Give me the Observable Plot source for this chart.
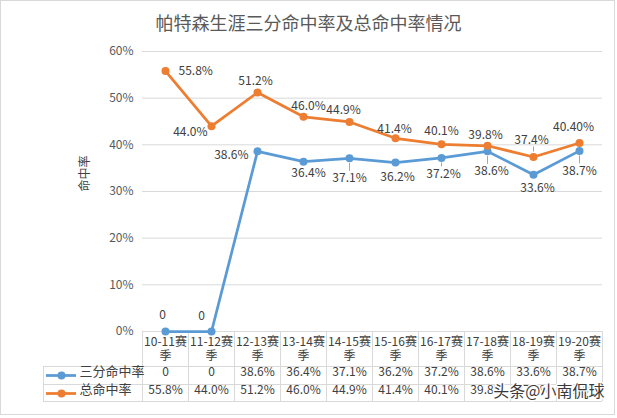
<!DOCTYPE html>
<html><head><meta charset="utf-8">
<script src="https://cdn.jsdelivr.net/npm/d3@7"></script>
<script src="https://cdn.jsdelivr.net/npm/@observablehq/plot@0.6"></script>
<style>
body{margin:0;background:#fff;}
#wrap{position:relative;width:617px;height:418px;font-family:"Microsoft YaHei","Noto Sans CJK SC",sans-serif;}
#frame{position:absolute;left:0;top:0;width:615px;height:415px;border:1px solid #d9d9d9;box-sizing:border-box;pointer-events:none;}
#title{position:absolute;left:0;width:617px;top:9px;text-align:center;font-size:18px;color:#595959;line-height:26px;}
#chart{position:absolute;left:0;top:0;}
</style></head>
<body><div id="wrap"><div id="chart"></div><div id="title"></div><div id="frame"></div></div>
<script>
// ---- data ----
const chartTitle = "帕特森生涯三分命中率及总命中率情况";
const seasons = ["10-11赛季","11-12赛季","12-13赛季","13-14赛季","14-15赛季","15-16赛季","16-17赛季","17-18赛季","18-19赛季","19-20赛季"];
const threePct = [0, 0, 38.6, 36.4, 37.1, 36.2, 37.2, 38.6, 33.6, 38.7];
const totalPct = [55.8, 44.0, 51.2, 46.0, 44.9, 41.4, 40.1, 39.8, 37.4, 40.4];
const threeLabels = ["0","0","38.6%","36.4%","37.1%","36.2%","37.2%","38.6%","33.6%","38.7%"];
const totalLabels = ["55.8%","44.0%","51.2%","46.0%","44.9%","41.4%","40.1%","39.8%","37.4%","40.40%"];
const seriesNames = ["三分命中率","总命中率"];
const yTicks = [0, 10, 20, 30, 40, 50, 60];
const yTitle = "命中率";
const watermark = "头条@小南侃球";

// ---- layout / style ----
const W = 617, H = 418, ML = 142, MR = 15, MT = 51, MB = 87;
const BW = (W - ML - MR) / seasons.length;
const BLUE = "#5B9BD5", ORANGE = "#ED7D31", GRID = "#d9d9d9", TXT = "#404040";
const LEG = 99; // legend column width
// label placement: [dx, dy, anchor, leader]
const threePlace = [[-3,-16,"middle",0],[-10,-15,"middle",0],[-9,4,"end",0],[5,12,"middle",0],[0,20,"middle",1],[2,15,"middle",0],[2,16,"middle",1],[4,20,"middle",1],[4,13,"middle",0],[0,20,"middle",1]];
const totalPlace = [[13,0,"start",0],[-4,6,"end",0],[-2,-11,"middle",0],[5,-11,"middle",0],[-6,-12,"middle",0],[-1,-9,"middle",0],[0,-13,"middle",0],[-2,-11,"middle",0],[-2,-17,"middle",-1],[-6,-16,"middle",0]];

document.getElementById("title").textContent = chartTitle;
const idx = d3.range(seasons.length);

function labelMarks(vals, labels, place, color) {
  const marks = [];
  idx.forEach(i => {
    const [dx, dy, anchor, leader] = place[i];
    marks.push(Plot.text([i], {x: j => seasons[j], y: j => vals[j], text: j => labels[j], dx, dy, textAnchor: anchor, fill: TXT, fontSize: 12}));
    if (leader === 1) marks.push(Plot.ruleX([i], {x: j => seasons[j], y1: j => vals[j], y2: j => vals[j], insetTop: 5, insetBottom: -(dy - 7), stroke: "#a6a6a6", strokeWidth: 1}));
    if (leader === -1) marks.push(Plot.ruleX([i], {x: j => seasons[j], y1: j => vals[j], y2: j => vals[j], insetTop: dy + 7, insetBottom: 5, stroke: "#a6a6a6", strokeWidth: 1}));
  });
  return marks;
}

const chart = Plot.plot({
  width: W, height: H,
  marginLeft: ML, marginRight: MR, marginTop: MT, marginBottom: MB,
  style: {fontFamily: '"Microsoft YaHei","Noto Sans CJK SC",sans-serif', fontSize: "12px", color: TXT, background: "transparent"},
  x: {type: "band", domain: seasons, padding: 0, axis: null},
  y: {domain: [0, 60], axis: null},
  marks: [
    Plot.ruleY(yTicks, {stroke: GRID, strokeWidth: 1}),
    Plot.axisY(yTicks, {tickSize: 0, tickPadding: 9, tickFormat: d => d + "%", label: null, fill: "#595959", fontSize: 12}),
    Plot.text([yTitle], {frameAnchor: "left", rotate: -90, dx: -57, fill: TXT, fontSize: 12}),
    // table grid
    ...[35, 53, 70].map(dy => Plot.ruleY([0], {dy, insetLeft: -LEG, stroke: GRID})),
    Plot.ruleX(seasons, {x: d => d, y1: 0, y2: 0, insetBottom: -70, dx: -BW / 2, stroke: GRID}),
    Plot.ruleX([seasons[seasons.length - 1]], {x: d => d, y1: 0, y2: 0, insetBottom: -70, dx: BW / 2, stroke: GRID}),
    Plot.ruleX([seasons[0]], {x: d => d, y1: 0, y2: 0, insetTop: 35, insetBottom: -70, dx: -BW / 2 - LEG, stroke: GRID}),
    // table header + rows
    Plot.text(seasons, {x: d => d, text: d => d.slice(0, -1) + "\n" + d.slice(-1), frameAnchor: "bottom", lineAnchor: "top", lineHeight: 1.2, dy: 4, fill: TXT, fontSize: 12}),
    Plot.text(idx, {x: i => seasons[i], text: i => threeLabels[i], frameAnchor: "bottom", dy: 44, fill: TXT, fontSize: 12}),
    Plot.text(idx, {x: i => seasons[i], text: i => totalLabels[i], frameAnchor: "bottom", dy: 62, fill: TXT, fontSize: 12}),
    // legend keys inside table
    Plot.ruleY([0], {dy: 44, insetLeft: -96, insetRight: (W - ML - MR) + 66, stroke: BLUE, strokeWidth: 2.75}),
    Plot.dot([0], {frameAnchor: "bottom-left", dx: -81, dy: 44, r: 4, fill: BLUE}),
    Plot.text([seriesNames[0]], {frameAnchor: "bottom-left", textAnchor: "start", dx: -63, dy: 44, fill: TXT, fontSize: 13}),
    Plot.ruleY([0], {dy: 62, insetLeft: -96, insetRight: (W - ML - MR) + 66, stroke: ORANGE, strokeWidth: 2.75}),
    Plot.dot([0], {frameAnchor: "bottom-left", dx: -81, dy: 62, r: 4, fill: ORANGE}),
    Plot.text([seriesNames[1]], {frameAnchor: "bottom-left", textAnchor: "start", dx: -63, dy: 62, fill: TXT, fontSize: 13}),
    // series
    Plot.line(idx, {x: i => seasons[i], y: i => threePct[i], stroke: BLUE, strokeWidth: 2.75}),
    Plot.dot(idx, {x: i => seasons[i], y: i => threePct[i], r: 4, fill: BLUE}),
    Plot.line(idx, {x: i => seasons[i], y: i => totalPct[i], stroke: ORANGE, strokeWidth: 2.75}),
    Plot.dot(idx, {x: i => seasons[i], y: i => totalPct[i], r: 4, fill: ORANGE}),
    ...labelMarks(threePct, threeLabels, threePlace, BLUE),
    ...labelMarks(totalPct, totalLabels, totalPlace, ORANGE),
    // watermark
    Plot.text([watermark], {frameAnchor: "bottom-right", textAnchor: "end", dx: 2, dy: 65, fontSize: 16, fill: "#3a3a3a", stroke: "white", strokeWidth: 3, paintOrder: "stroke"})
  ]
});
document.getElementById("chart").appendChild(chart);
</script>
</body></html>
